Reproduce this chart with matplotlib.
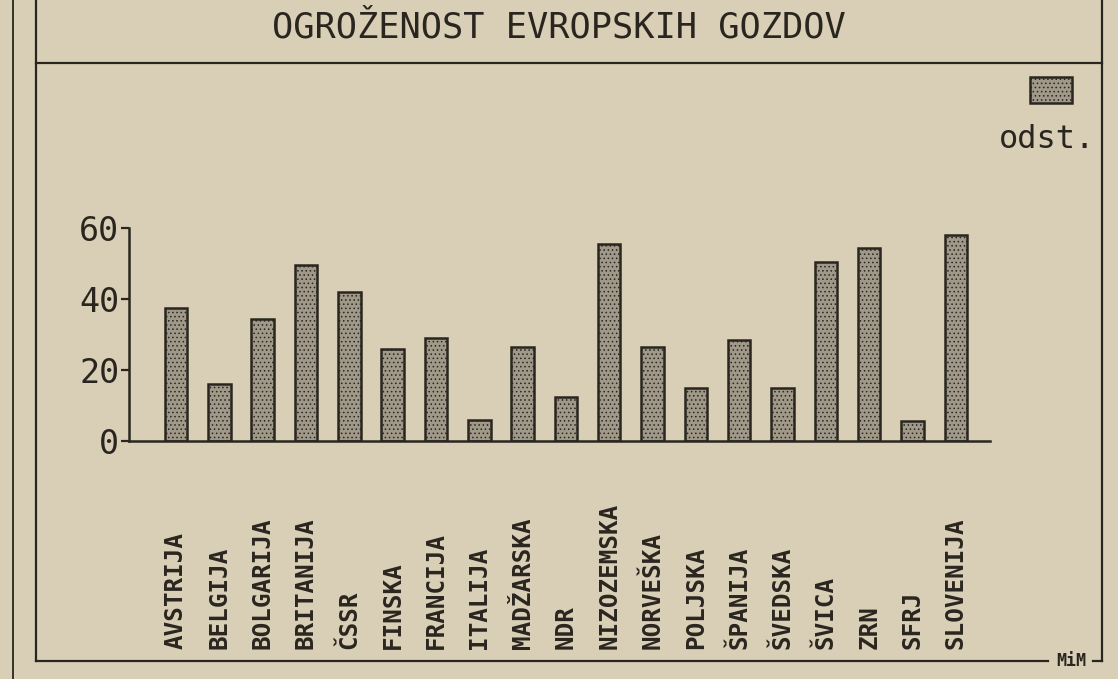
import matplotlib
matplotlib.use("Agg")
import matplotlib.pyplot as plt
from matplotlib.lines import Line2D
import matplotlib.transforms as mtransforms

countries = ["AVSTRIJA", "BELGIJA", "BOLGARIJA", "BRITANIJA", "ČSSR", "FINSKA",
             "FRANCIJA", "ITALIJA", "MADŽARSKA", "NDR", "NIZOZEMSKA", "NORVEŠKA",
             "POLJSKA", "ŠPANIJA", "ŠVEDSKA", "ŠVICA", "ZRN", "SFRJ", "SLOVENIJA"]
values = [37.5, 16, 34.5, 49.5, 42, 26, 29, 6, 26.5, 12.5, 55.5, 26.5,
          15, 28.5, 15, 50.5, 54.5, 5.5, 58]
yticks = [0, 20, 40, 60]
title = "OGROŽENOST EVROPSKIH GOZDOV"
legend_label = "odst."
signature = "MiM"

BG = "#d8cfb6"
INK = "#2a261f"
BARFILL = "#a09989"
W, H = 1118, 679

plt.rcParams["hatch.linewidth"] = 0.6
plt.rcParams["font.family"] = ["DejaVu Sans Mono", "DejaVu Sans"]

fig = plt.figure(figsize=(W / 100, H / 100), dpi=100, facecolor=BG)

def fx(px):
    return px / W

def fy(py):
    return 1 - py / H

ax = fig.add_axes([fx(129), fy(441), fx(990) - fx(129), fy(228) - fy(441)])
ax.set_facecolor("none")
x = list(range(len(countries)))
ax.bar(x, values, width=0.52, facecolor=BARFILL, edgecolor=INK,
       linewidth=1.8, hatch="....", zorder=2)
ax.set_xlim(-1.085, 18.79)
ax.set_ylim(0, 60)
ax.set_yticks(yticks)
ax.set_yticklabels([str(v) for v in yticks], fontsize=24, color=INK)
ax.tick_params(axis="y", length=6, width=1.6, color=INK, pad=1)
ax.set_xticks([])
for s in ["top", "right"]:
    ax.spines[s].set_visible(False)
for s in ["left", "bottom"]:
    ax.spines[s].set_linewidth(1.8)
    ax.spines[s].set_color(INK)

# rotated category labels, bottom aligned
trans = mtransforms.blended_transform_factory(ax.transData, fig.transFigure)
for xi, name in zip(x, countries):
    ax.text(xi, fy(649), name, transform=trans, rotation=90, ha="center",
            va="bottom", fontsize=17.5, fontweight="bold", color=INK)

# title
fig.text(0.5, fy(28), title, ha="center", va="center", fontsize=25.5,
         color=INK)

# legend
fig.patches.append(plt.Rectangle((fx(1030), fy(103)), fx(1072) - fx(1030),
                                 fy(77) - fy(103), transform=fig.transFigure,
                                 facecolor=BARFILL, edgecolor=INK,
                                 linewidth=1.8, hatch="...."))
fig.text(fx(1047), fy(140), legend_label, ha="center", va="center",
         fontsize=23, color=INK)

# frame lines
lw = 1.6
fig.add_artist(Line2D([fx(13), fx(13)], [0, 1], color=INK, lw=1.3))
fig.add_artist(Line2D([fx(36), fx(36)], [fy(661), 1], color=INK, lw=lw))
fig.add_artist(Line2D([fx(1102), fx(1102)], [fy(661), 1], color=INK, lw=lw))
fig.add_artist(Line2D([fx(36), fx(1102)], [fy(63), fy(63)], color=INK, lw=lw))
fig.add_artist(Line2D([fx(36), fx(1048)], [fy(661), fy(661)], color=INK, lw=lw))
fig.add_artist(Line2D([fx(1093), fx(1102)], [fy(661), fy(661)], color=INK, lw=lw))
fig.text(fx(1071), fy(661), signature, ha="center", va="center", fontsize=12,
         fontweight="bold", color=INK)

fig.savefig("out.png", dpi=100, facecolor=BG)
